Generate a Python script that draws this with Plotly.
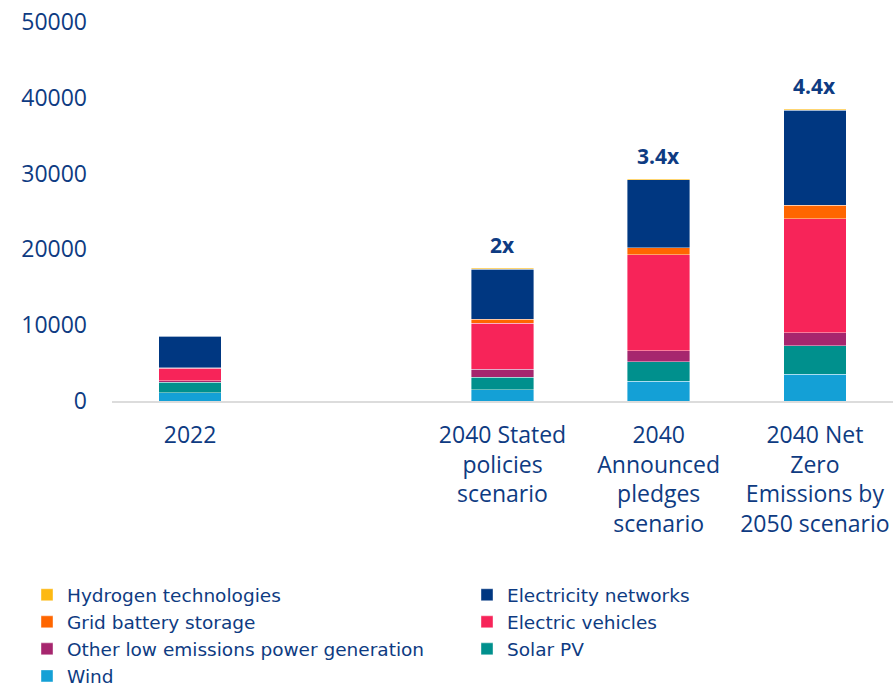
import plotly.graph_objects as go

categories = ["2022", " ", "2040 Stated<br>policies<br>scenario", "2040<br>Announced<br>pledges<br>scenario",
              "2040 Net<br>Zero<br>Emissions by<br>2050 scenario"]

wind = [1080, None, 1480, 2610, 3500]
solar_pv = [1400, None, 1660, 2600, 3790]
other_low = [220, None, 1055, 1410, 1715]
electric_vehicles = [1650, None, 6070, 12660, 15040]
grid_battery = [60, None, 490, 925, 1755]
electricity_networks = [4150, None, 6640, 9010, 12570]
hydrogen = [40, None, 130, 130, 90]

multipliers = ["", "", "2x", "3.4x", "4.4x"]

# (name, values, colour, legend, rank)
series = [
    ("Wind", wind, "#14A0D6", "legend", 4),
    ("Solar PV", solar_pv, "#00908D", "legend2", 3),
    ("Other low emissions power generation", other_low, "#A6266E", "legend", 3),
    ("Electric vehicles", electric_vehicles, "#F72459", "legend2", 2),
    ("Grid battery storage", grid_battery, "#FF6600", "legend", 2),
    ("Electricity networks", electricity_networks, "#003781", "legend2", 1),
    ("Hydrogen technologies", hydrogen, "#FDB913", "legend", 1),
]

NAVY = "#0E3B82"
FONT = "Open Sans"
LEGFONT = "DejaVu Sans"

fig = go.Figure()
for name, vals, color, leg, rank in series:
    fig.add_trace(go.Bar(
        x=categories, y=vals, name=name, legend=leg, legendrank=rank,
        marker=dict(color=color, line=dict(color="rgba(255,255,255,0.5)", width=0.8)),
    ))

totals = []
for i in range(len(categories)):
    s = 0
    for _, vals, _, _, _ in series:
        if vals[i] is not None:
            s += vals[i]
    totals.append(s)

for cat, tot, txt in zip(categories, totals, multipliers):
    if txt:
        fig.add_annotation(x=cat, y=tot, text="<b>" + txt + "</b>", showarrow=False,
                           yanchor="bottom", yshift=7,
                           font=dict(family=FONT, size=21, color=NAVY))

legend_common = dict(orientation="v", xref="container", yref="container",
                     y=0.16, xanchor="left", yanchor="top", traceorder="normal",
                     font=dict(family=LEGFONT, size=18.5, color=NAVY), itemclick=False,
                     bgcolor="rgba(0,0,0,0)")

fig.update_layout(
    width=896, height=686,
    barmode="stack", bargap=0.6,
    plot_bgcolor="white", paper_bgcolor="white",
    margin=dict(l=112, r=3, t=22, b=285, autoexpand=False),
    font=dict(family=FONT, size=21, color=NAVY),
    xaxis=dict(type="category", categoryorder="array", categoryarray=categories,
               showline=True, linecolor="#DCDCDC", linewidth=2, showgrid=False,
               ticks="", tickfont=dict(size=23, color=NAVY), ticklabelstandoff=12),
    yaxis=dict(range=[0, 50000], dtick=10000, tickformat="d", showgrid=False,
               zeroline=False, showline=False, ticks="",
               tickfont=dict(size=23, color=NAVY), ticklabelstandoff=24),
    legend=dict(x=27 / 896, **legend_common),
    legend2=dict(x=467 / 896, **legend_common),
    showlegend=True,
)

fig.write_html("out.html", config={"displayModeBar": False},
               post_script="document.body.style.margin='0px';")
